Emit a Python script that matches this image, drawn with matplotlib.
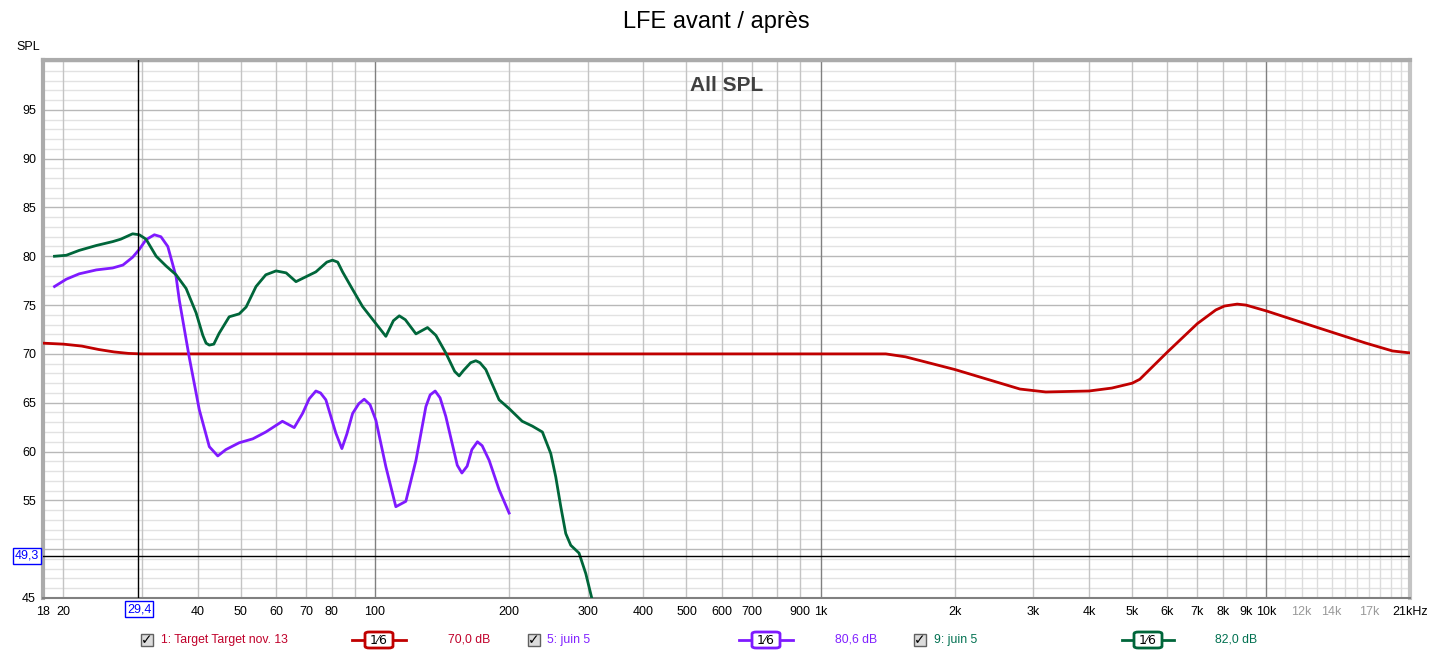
import matplotlib
matplotlib.use("Agg")
import matplotlib.pyplot as plt
from matplotlib.patches import Rectangle, FancyBboxPatch
from matplotlib.lines import Line2D

plt.rcParams['font.family'] = ['Liberation Sans', 'DejaVu Sans']

# ---------------- data ----------------
target_freq = [18, 20, 22, 24, 26, 28, 30, 40, 100, 1000, 1400, 1550, 2000, 2800,
               3200, 4000, 4500, 5000, 5200, 6000, 7000, 7700, 8050, 8600, 9000,
               10000, 11860, 14080, 16730, 19190, 21000]
target_spl = [71.1, 71.0, 70.8, 70.45, 70.2, 70.05, 70.0, 70.0, 70.0, 70.0, 70.0, 69.7,
              68.4, 66.4, 66.1, 66.2, 66.5, 67.0, 67.4, 70.2, 73.1, 74.5, 74.9, 75.1,
              75.0, 74.4, 73.3, 72.2, 71.1, 70.3, 70.1]

juin5_a_freq = [19.1, 20.3, 21.7, 23.7, 25.8, 27.2, 28.6, 29.6, 30.65, 32.0, 33.1, 34.3,
                35.8, 36.4, 38.3, 40.35, 42.5, 44.4, 46.3, 49.6, 53.2, 56.9, 62.0, 65.9,
                68.8, 71.2, 73.7, 75.5, 77.6, 81.7, 84.3, 86.5, 89.1, 92.0, 94.6, 97.5,
                100.5, 105.8, 111.4, 117.3, 123.6, 130.1, 133.0, 136.5, 140.0, 144.2,
                153.0, 156.7, 161.0, 165.0, 169.8, 174.0, 180.4, 189.9, 200]
juin5_a_spl = [76.9, 77.65, 78.2, 78.6, 78.8, 79.1, 79.9, 80.7, 81.7, 82.2, 82.0, 81.0,
               77.9, 75.5, 69.7, 64.3, 60.5, 59.55, 60.2, 60.9, 61.3, 62.0, 63.1, 62.45,
               63.9, 65.4, 66.2, 66.0, 65.3, 61.9, 60.3, 61.8, 63.9, 64.9, 65.36, 64.8,
               63.2, 58.45, 54.35, 54.9, 59.1, 64.6, 65.8, 66.2, 65.5, 63.6,
               58.6, 57.8, 58.5, 60.2, 61.0, 60.6, 59.1, 56.1, 53.7]

juin5_b_freq = [19.1, 20.3, 21.7, 23.7, 25.8, 26.9, 28.6, 29.6, 30.65, 32.3, 34.0, 35.8,
                37.7, 39.7, 41.1, 41.8, 42.5, 43.5, 44.7, 47.1, 49.6, 51.4, 54.1, 56.9,
                60.0, 63.2, 66.5, 70.0, 73.7, 78.0, 80.3, 82.5, 84.6, 89.1, 93.8, 100.5,
                105.8, 110.0, 113.4, 117.0, 123.6, 131.2, 137.0, 144.2, 151.0, 154.5,
                158.0, 164.0, 168.4, 172.0, 177.3, 189.9, 200, 214, 225.6, 237.5,
                248, 254.5, 261.2, 268, 275, 287, 297.2, 306.5, 315]
juin5_b_spl = [80.0, 80.1, 80.6, 81.1, 81.5, 81.75, 82.3, 82.2, 81.75, 80.0, 79.0, 78.1,
               76.7, 74.2, 71.9, 71.1, 70.9, 71.0, 72.1, 73.8, 74.1, 74.8, 76.9, 78.1,
               78.5, 78.3, 77.4, 77.9, 78.4, 79.4, 79.6, 79.4, 78.4, 76.6, 74.85, 73.1,
               71.8, 73.4, 73.9, 73.5, 72.05, 72.7, 71.9, 70.1, 68.2, 67.75,
               68.3, 69.1, 69.3, 69.1, 68.4, 65.3, 64.4, 63.1, 62.6, 62.0,
               59.8, 57.4, 54.35, 51.6, 50.4, 49.6, 47.5, 45.0, 43.0]

series_names = ["1: Target Target nov. 13", "5: juin 5", "9: juin 5"]
series_levels = ["70,0 dB", "80,6 dB", "82,0 dB"]

xtick_vals = [18, 20, 40, 50, 60, 70, 80, 100, 200, 300, 400, 500, 600, 700, 900,
              1000, 2000, 3000, 4000, 5000, 6000, 7000, 8000, 9000, 10000, 12000,
              14000, 17000, 21000]
xtick_labels = ["18", "20", "40", "50", "60", "70", "80", "100", "200", "300",
                "400", "500", "600", "700", "900", "1k", "2k", "3k", "4k", "5k", "6k",
                "7k", "8k", "9k", "10k", "12k", "14k", "17k", "21kHz"]
ytick_vals = [45, 55, 60, 65, 70, 75, 80, 85, 90, 95]

cursor_freq = 29.4
cursor_spl = 49.3

# ---------------- styling ----------------
W, H = 1433, 655
col_red = '#c00000'
col_purple = '#7f1aff'
col_green = '#00663a'
txt_red = '#c0002a'
txt_purple = '#8020ff'
txt_green = '#007050'

fig = plt.figure(figsize=(W / 100, H / 100), dpi=100)
ax = fig.add_axes([43 / W, 57 / H, (1410 - 43) / W, (598 - 60) / H])
ax.set_xscale('log')
ax.set_xlim(18, 21000)
ax.set_ylim(45, 100.1)

# grid
for d in (10, 100, 1000):
    for m in range(2, 10):
        f = d * m
        if 18 <= f:
            ax.axvline(f, color='#c4c4c4', lw=1, zorder=1)
for f in (100, 1000, 10000):
    ax.axvline(f, color='#808080', lw=1, zorder=1.2)
for k in range(11, 21):
    ax.axvline(k * 1000, color='#dcdcdc', lw=1, zorder=1)
for v in range(46, 101):
    if v % 5 == 0:
        ax.axhline(v, color='#b8b8b8', lw=1, zorder=1.1)
    else:
        ax.axhline(v, color='#e2e2e2', lw=1, zorder=0.9)

# curves
ax.plot(target_freq, target_spl, color=col_red, lw=2, zorder=4, solid_joinstyle='round')
ax.plot(juin5_a_freq, juin5_a_spl, color=col_purple, lw=2, zorder=4, solid_joinstyle='round')
ax.plot(juin5_b_freq, juin5_b_spl, color=col_green, lw=2, zorder=4, solid_joinstyle='round')

# cursors
ax.axvline(cursor_freq, color='black', lw=1, zorder=5)
ax.axhline(cursor_spl, color='black', lw=1, zorder=5)

# ticks
ax.set_xticks(xtick_vals)
ax.set_xticklabels(xtick_labels, fontsize=9)
ax.xaxis.set_minor_locator(matplotlib.ticker.NullLocator())
for lab, txt in zip(ax.get_xticklabels(), xtick_labels):
    if txt in ("12k", "14k", "17k"):
        lab.set_color('#9a9a9a')
ax.set_yticks(ytick_vals)
ax.set_yticklabels([str(v) for v in ytick_vals], fontsize=9)
ax.tick_params(axis='both', length=0, pad=5)
ax.tick_params(axis='x', pad=6)

for s in ('left', 'top'):
    ax.spines[s].set_color('#ababab')
    ax.spines[s].set_linewidth(3)
ax.spines['right'].set_color('#c4c4c4')
ax.spines['right'].set_linewidth(3)
ax.spines['bottom'].set_color('#808080')
ax.spines['bottom'].set_linewidth(1.5)

ax.text(0.5, 0.97, "All SPL", transform=ax.transAxes, ha='center', va='top',
        fontsize=15, fontweight='bold', color='#404040', zorder=6)


def fx(x):
    return x / W


def fy(y):
    return 1 - y / H


fig.text(fx(716), fy(22), "LFE avant / après", ha='center', va='center', fontsize=17)
fig.text(fx(16), fy(47), "SPL", ha='left', va='center', fontsize=9)

# cursor value boxes
fig.text(fx(139), fy(609), "29,4", ha='center', va='center', fontsize=9, color='#0000ff',
         bbox=dict(boxstyle='square,pad=0.15', fc='white', ec='#0000ff', lw=1))
fig.text(fx(27), fy(556), "49,3", ha='center', va='center', fontsize=9, color='#0000ff',
         bbox=dict(boxstyle='square,pad=0.15', fc='white', ec='#0000ff', lw=1))

# legend row
legend_specs = [
    (141, 161, 352, 406, 448, col_red, txt_red),
    (528, 547, 739, 793, 835, col_purple, txt_purple),
    (914, 934, 1122, 1174, 1215, col_green, txt_green),
]
ly = 640
for (cbx, tx, l0, l1, lvx, lc, tc), name, lvl in zip(legend_specs, series_names, series_levels):
    fig.patches.append(Rectangle((fx(cbx), fy(ly + 6)), 12 / W, 12 / H, transform=fig.transFigure,
                                 fc='#dcdcdc', ec='#606060', lw=1, zorder=2))
    fig.text(fx(cbx + 6), fy(ly), "✓", ha='center', va='center', fontsize=10,
             fontweight='bold', color='black', family=['DejaVu Sans'], zorder=5)
    fig.text(fx(tx), fy(ly), name, ha='left', va='center', fontsize=8.8, color=tc)
    fig.lines.append(Line2D([fx(l0), fx(l1)], [fy(ly), fy(ly)], transform=fig.transFigure,
                            color=lc, lw=2, zorder=1))
    bx0 = (l0 + l1) / 2 - 14
    fig.patches.append(FancyBboxPatch((fx(bx0), fy(ly + 8)), 28 / W, 16 / H,
                                      boxstyle='round,pad=0,rounding_size=0.003',
                                      transform=fig.transFigure, fc='white', ec=lc, lw=2,
                                      zorder=3))
    fig.text(fx((l0 + l1) / 2), fy(ly), "1⁄6", ha='center', va='center', fontsize=9,
             color='black', family=['DejaVu Sans'], zorder=5)
    fig.text(fx(lvx), fy(ly), lvl, ha='left', va='center', fontsize=8.8, color=tc)

fig.savefig("out.png", dpi=100)
